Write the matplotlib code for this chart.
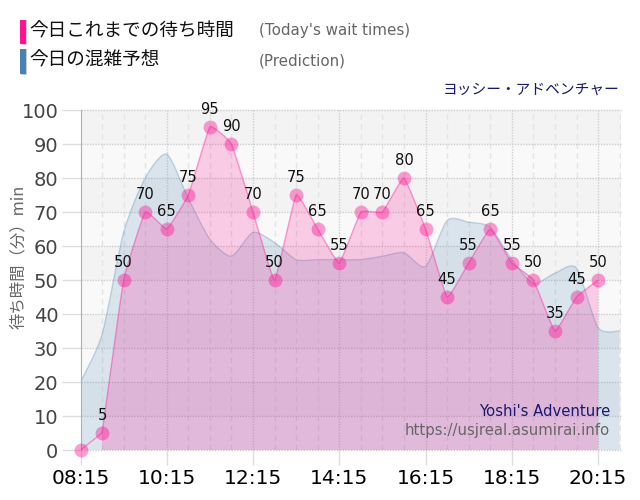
import numpy as np
import matplotlib
matplotlib.use("Agg")
import matplotlib.pyplot as plt
from matplotlib.path import Path
from matplotlib.patches import PathPatch, Rectangle

plt.rcParams['font.family'] = ['DejaVu Sans', 'Noto Sans CJK JP']

actual_hours = [8.25, 8.75, 9.25, 9.75, 10.25, 10.75, 11.25, 11.75, 12.25, 12.75, 13.25, 13.75, 14.25,
                14.75, 15.25, 15.75, 16.25, 16.75, 17.25, 17.75, 18.25, 18.75, 19.25, 19.75, 20.25]
actual_values = [0, 5, 50, 70, 65, 75, 95, 90, 70, 50, 75, 65, 55,
                 70, 70, 80, 65, 45, 55, 65, 55, 50, 35, 45, 50]
pred_hours = [8.25, 8.75, 9.25, 9.75, 10.25, 10.75, 11.25, 11.75, 12.25, 12.75, 13.25, 13.75, 14.25,
              14.75, 15.25, 15.75, 16.25, 16.75, 17.25, 17.75, 18.25, 18.75, 19.25, 19.75, 20.25, 20.75]
pred_values = [20, 34, 64, 80, 87, 74, 62, 57, 64, 61, 56, 56, 56,
               56, 57, 58, 54, 67.5, 67, 65.5, 56, 49, 52, 53.5, 36, 35]
x_tick_hours = [8.25, 10.25, 12.25, 14.25, 16.25, 18.25, 20.25]
x_tick_labels = ['08:15', '10:15', '12:15', '14:15', '16:15', '18:15', '20:15']
y_ticks = [0, 10, 20, 30, 40, 50, 60, 70, 80, 90, 100]

PINK = '#ff1493'
BLUE = '#4682b4'
W, H = 640, 500

fig = plt.figure(figsize=(W / 100, H / 100), dpi=100)
ax = fig.add_axes([80.5 / W, 1 - 450 / H, 540 / W, 340 / H])
ax.set_xlim(8.25, 20.77)
ax.set_ylim(0, 100)
for s in ax.spines.values():
    s.set_visible(False)
ax.spines['left'].set_visible(True)
ax.spines['left'].set_color('#b0b0b0')
ax.set_axisbelow(True)

for lo in y_ticks[:-1]:
    c = '#f3f3f3' if (lo // 10) % 2 == 1 else '#f9f9f9'
    ax.axhspan(lo, lo + 10, color=c, lw=0, zorder=0.1)

for h in pred_hours[1:]:
    major = h in x_tick_hours
    ax.axvline(h, color='#cfcfcf' if major else '#e4e4e4', lw=1,
               ls=(0, (1, 1)) if major else (0, (4, 3)), zorder=0.5)
for v in y_ticks:
    ax.axhline(v, color='#cccccc', lw=1, ls=(0, (1, 1)), zorder=0.5, clip_on=False)


def bezier_path(xs, ys, k):
    xs = np.asarray(xs, float)
    ys = np.asarray(ys, float)
    verts = [(xs[0], ys[0])]
    codes = [Path.MOVETO]
    n = len(xs)
    for i in range(n - 1):
        a = max(i - 1, 0)
        b = min(i + 2, n - 1)
        verts += [(xs[i] + (xs[i + 1] - xs[a]) * k, ys[i] + (ys[i + 1] - ys[a]) * k),
                  (xs[i + 1] - (xs[b] - xs[i]) * k, ys[i + 1] - (ys[b] - ys[i]) * k),
                  (xs[i + 1], ys[i + 1])]
        codes += [Path.CURVE4] * 3
    return verts, codes


def area(xs, ys, k, color, a_fill, a_line, z):
    v, c = bezier_path(xs, ys, k)
    closed = v + [(xs[-1], 0), (xs[0], 0), (xs[0], ys[0]), (xs[0], ys[0])]
    cc = c + [Path.LINETO, Path.LINETO, Path.LINETO, Path.CLOSEPOLY]
    ax.add_patch(PathPatch(Path(closed, cc), facecolor=color, edgecolor='none', alpha=a_fill, zorder=z))
    ax.add_patch(PathPatch(Path(v, c), facecolor='none', edgecolor=color, alpha=a_line, lw=1, zorder=z + 0.1))


area(pred_hours, pred_values, 0.12, BLUE, 0.17, 0.3, 2)
area(actual_hours[1:], actual_values[1:], 0.05, PINK, 0.2, 0.4, 3)
ax.plot(actual_hours[:2], actual_values[:2], color=PINK, alpha=0.4, lw=1, zorder=3.1)

ax.scatter(actual_hours, actual_values, s=100, color=PINK, alpha=0.42, linewidths=0, zorder=4, clip_on=False)

for h, v in zip(actual_hours[1:], actual_values[1:]):
    ax.annotate(str(v), (h, v), xytext=(0, 12.4), textcoords='offset points', ha='center', va='center',
                fontsize=10.6, color='#111111', zorder=6, annotation_clip=False)

ax.set_xticks(x_tick_hours, x_tick_labels)
ax.set_yticks(y_ticks)
ax.tick_params(axis='x', length=11, width=1, color='#dddddd', labelsize=14.5, labelcolor='black', pad=3)
ax.tick_params(axis='y', length=14, width=1, color='#dddddd', labelsize=14, labelcolor='#444444', pad=2)

jp = ['Noto Sans CJK JP', 'DejaVu Sans']
fig.add_artist(Rectangle((21 / W, 1 - 45 / H), 6 / W, 25 / H, transform=fig.transFigure, color='#cccccc', lw=0))
fig.add_artist(Rectangle((20 / W, 1 - 44 / H), 6 / W, 24 / H, transform=fig.transFigure, color=PINK, lw=0))
fig.add_artist(Rectangle((21 / W, 1 - 74.5 / H), 6 / W, 25 / H, transform=fig.transFigure, color='#cccccc', lw=0))
fig.add_artist(Rectangle((20 / W, 1 - 73.5 / H), 6 / W, 24 / H, transform=fig.transFigure, color=BLUE, lw=0))


def t(x, y, s, **kw):
    fig.text(x / W, 1 - y / H, s, va='center', **kw)


t(29, 32, '今日これまでの待ち時間', family=jp, fontsize=13.4, color='#111111')
t(29, 61, '今日の混雑予想', family=jp, fontsize=13.4, color='#111111')
t(259, 31, "(Today's wait times)", fontsize=10.9, color='#666666')
t(259, 61, '(Prediction)', fontsize=10.9, color='#666666')
t(620, 90, 'ヨッシー・アドベンチャー', family=jp, fontsize=10.6, color='#191970', ha='right')
t(610, 411, "Yoshi's Adventure", fontsize=10.75, color='#191970', ha='right', zorder=7)
t(610, 431, 'https://usjreal.asumirai.info', fontsize=10.75, color='#666666', ha='right', zorder=7)
fig.text(18 / W, 1 - 257 / H, '待ち時間（分）min', family=jp, fontsize=11.8, color='#666666',
         rotation=90, ha='center', va='center')

fig.savefig('out.png', dpi=100)
